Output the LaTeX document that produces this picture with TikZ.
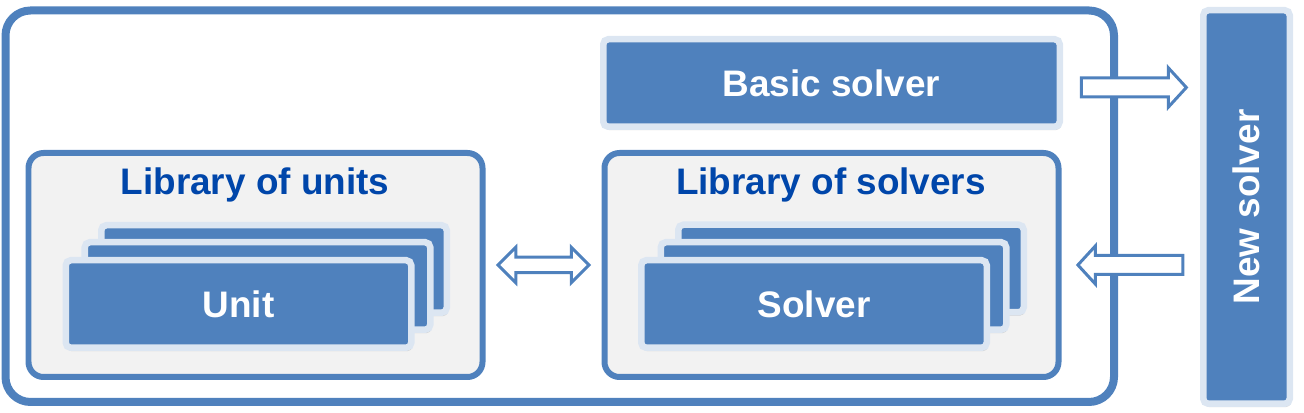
\documentclass[tikz,border=0pt]{standalone}
\usepackage{fontspec}
\setmainfont{Liberation Sans}
\usetikzlibrary{calc,positioning,shapes.arrows,shadows}
\definecolor{myblue}{RGB}{79,129,189}
\definecolor{mypale}{RGB}{220,230,242}
\definecolor{mygray}{RGB}{242,242,242}
\definecolor{mytitle}{RGB}{0,70,170}
\begin{document}
\begin{tikzpicture}[
  card/.style={draw=mypale, fill=myblue, line width=0.13cm, rounded corners=0.1cm,
    minimum width=6.91cm, minimum height=1.75cm, inner sep=0pt, text=white,
    font=\fontsize{21}{25}\selectfont\bfseries,
    drop shadow={shadow xshift=0.02cm, shadow yshift=-0.07cm, opacity=0.3}},
  library/.style={draw=myblue, fill=mygray, line width=0.12cm, rounded corners=0.3cm,
    minimum width=9.08cm, minimum height=4.48cm},
  title/.style={text=mytitle, font=\fontsize{21}{25}\selectfont\bfseries, anchor=base},
  hollow/.style={draw=myblue, fill=white, line width=0.06cm, inner sep=0pt, text depth=0pt}
]
  \useasboundingbox (0,0) rectangle (26.08,8.26);

  % outer frame
  \node[draw=myblue, line width=0.16cm, rounded corners=0.5cm,
    minimum width=22.17cm, minimum height=7.83cm] (frame) at (11.195,4.135) {};

  % library of units
  \node[library] (unitlib) at (5.11,2.96) {};
  \node[title] (unittitle) at (5.10,4.36) {Library of units};
  \node[card] (unitback) at (5.48,2.88) {};
  \node[card] (unitmid) at (5.15,2.54) {};
  \node[card] (unit) at (4.77,2.18) {Unit};

  % library of solvers
  \node[library] (solvlib) at (16.63,2.96) {};
  \node[title] (solvtitle) at (16.62,4.36) {Library of solvers};
  \node[card] (solvback) at (17.02,2.89) {};
  \node[card] (solvmid) at (16.67,2.54) {};
  \node[card] (solver) at (16.28,2.18) {Solver};

  % basic and new solver
  \node[card, minimum width=9.13cm] (basic) at (16.63,6.60) {Basic solver};
  \node[card, minimum width=1.73cm, minimum height=7.87cm] (new) at (24.93,4.12) {\rotatebox{90}{New solver}};

  % block arrows
  \node[hollow, double arrow, text height=0.25cm, minimum height=1.82cm,
    double arrow head extend=0.2cm]
    (link) at ($(unitlib.east)!0.5!(solvlib.west)$) {};
  \node[hollow, single arrow, text height=0.32cm, minimum height=2.1cm,
    single arrow head extend=0.2cm, single arrow tip angle=95]
    (tonew) at ([xshift=-0.04cm,yshift=-0.09cm]$(basic.east)!0.5!(basic.east -| new.west)$) {};
  \node[hollow, single arrow, shape border rotate=180, text height=0.32cm, minimum height=2.1cm,
    single arrow head extend=0.19cm, single arrow tip angle=95]
    (fromnew) at ([xshift=0.08cm]$(solvlib.east)!0.5!(solvlib.east -| new.west)$) {};
\end{tikzpicture}
\end{document}
